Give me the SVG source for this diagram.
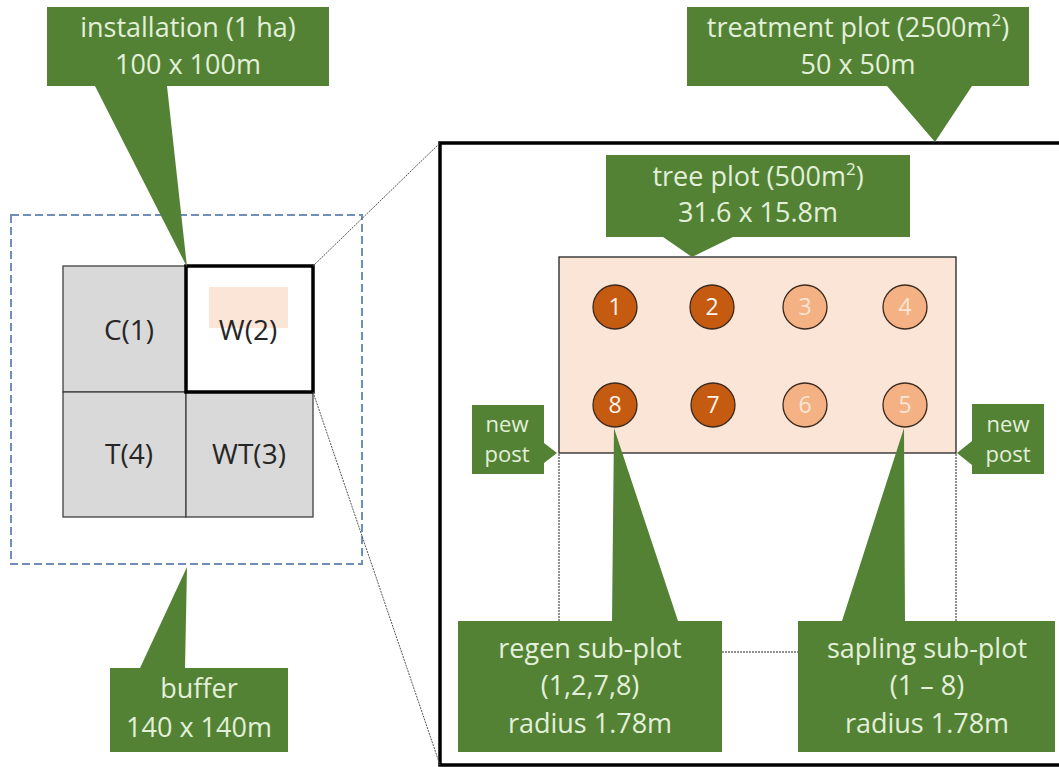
<svg xmlns="http://www.w3.org/2000/svg" width="1059" height="767" viewBox="0 0 1059 767">
<style>
.callout{fill:#548235;stroke:none}
.ct{font-family:"Open Sans","Liberation Sans",sans-serif;font-size:27px;fill:#e2f0d9;text-anchor:middle}
.np{font-family:"Open Sans","Liberation Sans",sans-serif;font-size:22px;fill:#e2f0d9;text-anchor:middle}
.gl{font-family:"Open Sans","Liberation Sans",sans-serif;font-size:28px;fill:#262626;text-anchor:middle}
.cell{fill:#d9d9d9;stroke:#404040;stroke-width:1.3}
.dk{fill:#c55a11;stroke:#3a2a1f;stroke-width:1.3}
.lt{fill:#f4b183;stroke:#3a2a1f;stroke-width:1.3}
.cn{font-family:"Open Sans","Liberation Sans",sans-serif;font-size:23px;text-anchor:middle}
.dot{fill:none;stroke:#222;stroke-width:1;stroke-dasharray:2 1}
.zoom{fill:none;stroke:#555;stroke-width:1;stroke-dasharray:2 1}
</style>
<rect width="1059" height="767" fill="#ffffff"/>
<g id="buffer-area">
<rect x="11" y="215" width="351" height="349" fill="none" stroke="#6f8fb8" stroke-width="2" stroke-dasharray="8 4"/>
</g>
<g id="installation-grid">
<rect class="cell" x="63" y="266" width="123" height="126"/>
<rect class="cell" x="63" y="392" width="123" height="125"/>
<rect class="cell" x="186" y="392" width="127" height="125"/>
<rect x="186" y="266" width="127" height="126" fill="#ffffff" stroke="#000" stroke-width="3.5"/>
<rect x="209" y="287" width="79" height="41" fill="#fbe5d6"/>
<text class="gl" x="129" y="340">C(1)</text>
<text class="gl" x="248" y="340">W(2)</text>
<text class="gl" x="129" y="464">T(4)</text>
<text class="gl" x="249" y="464">WT(3)</text>
</g>
<g id="treatment-plot">
<rect x="440" y="143" width="630" height="622" fill="none" stroke="#000" stroke-width="3.5"/>
</g>
<g id="tree-plot">
<rect x="559" y="257" width="397" height="196" fill="#fbe5d6" stroke="#222" stroke-width="1.3"/>
</g>
<g id="connectors">
<line class="zoom" x1="313" y1="266" x2="440" y2="143"/>
<line class="zoom" x1="313" y1="392" x2="440" y2="765"/>
<line class="dot" x1="559" y1="454" x2="559" y2="621"/>
<line class="dot" x1="956" y1="454" x2="956" y2="621"/>
<line class="dot" x1="722" y1="652" x2="798" y2="652"/>
</g>
<g id="subplots">
<g id="sp1"><circle class="dk" cx="615" cy="307" r="22"/><text class="cn" x="615" y="315" fill="#fff4ea">1</text></g>
<g id="sp2"><circle class="dk" cx="712" cy="307" r="22"/><text class="cn" x="712" y="315" fill="#fff4ea">2</text></g>
<g id="sp3"><circle class="lt" cx="805" cy="307" r="22"/><text class="cn" x="805" y="315" fill="#fbe5d6">3</text></g>
<g id="sp4"><circle class="lt" cx="905" cy="307" r="22"/><text class="cn" x="905" y="315" fill="#fbe5d6">4</text></g>
<g id="sp8"><circle class="dk" cx="615" cy="405" r="22"/><text class="cn" x="615" y="413" fill="#fff4ea">8</text></g>
<g id="sp7"><circle class="dk" cx="713" cy="405" r="22"/><text class="cn" x="713" y="413" fill="#fff4ea">7</text></g>
<g id="sp6"><circle class="lt" cx="805" cy="405" r="22"/><text class="cn" x="805" y="413" fill="#fbe5d6">6</text></g>
<g id="sp5"><circle class="lt" cx="905" cy="405" r="22"/><text class="cn" x="905" y="413" fill="#fbe5d6">5</text></g>
</g>
<g id="callout-installation">
<path class="callout" d="M47,7 H329 V86 H167 L187,267 L95,86 H47 Z"/>
<text class="ct" x="188" y="37">installation (1 ha)</text>
<text class="ct" x="188" y="74">100 x 100m</text>
</g>
<g id="callout-buffer">
<path class="callout" d="M110,668 H140 L187,567 L185,668 H288 V752 H110 Z"/>
<text class="ct" x="199" y="698">buffer</text>
<text class="ct" x="199" y="737">140 x 140m</text>
</g>
<g id="callout-treatment">
<path class="callout" d="M687,7 H1029 V86 H972 L935,142 L887,86 H687 Z"/>
<text class="ct" x="858" y="37">treatment plot (2500m<tspan dy="-11" font-size="17">2</tspan><tspan dy="11">)</tspan></text>
<text class="ct" x="858" y="74">50 x 50m</text>
</g>
<g id="callout-tree">
<path class="callout" d="M606,155 H910 V237 H733 L692,257 L663,237 H606 Z"/>
<text class="ct" x="758" y="186">tree plot (500m<tspan dy="-11" font-size="17">2</tspan><tspan dy="11">)</tspan></text>
<text class="ct" x="758" y="222">31.6 x 15.8m</text>
</g>
<g id="callout-newpost-left">
<path class="callout" d="M472,405 H544 V443 L557,453 L544,463 V474 H472 Z"/>
<text class="np" x="507" y="432">new</text>
<text class="np" x="507" y="462">post</text>
</g>
<g id="callout-newpost-right">
<path class="callout" d="M972,404 H1044 V474 H972 V465 L957,453 L972,441 Z"/>
<text class="np" x="1008" y="432">new</text>
<text class="np" x="1008" y="462">post</text>
</g>
<g id="callout-regen">
<path class="callout" d="M458,621 H612 L614,428 L678,621 H722 V752 H458 Z"/>
<text class="ct" x="590" y="658">regen sub-plot</text>
<text class="ct" x="590" y="695">(1,2,7,8)</text>
<text class="ct" x="590" y="733">radius 1.78m</text>
</g>
<g id="callout-sapling">
<path class="callout" d="M798,621 H842 L904,428 L905,621 H1055 V752 H798 Z"/>
<text class="ct" x="927" y="658">sapling sub-plot</text>
<text class="ct" x="927" y="695">(1 – 8)</text>
<text class="ct" x="927" y="733">radius 1.78m</text>
</g>
</svg>
